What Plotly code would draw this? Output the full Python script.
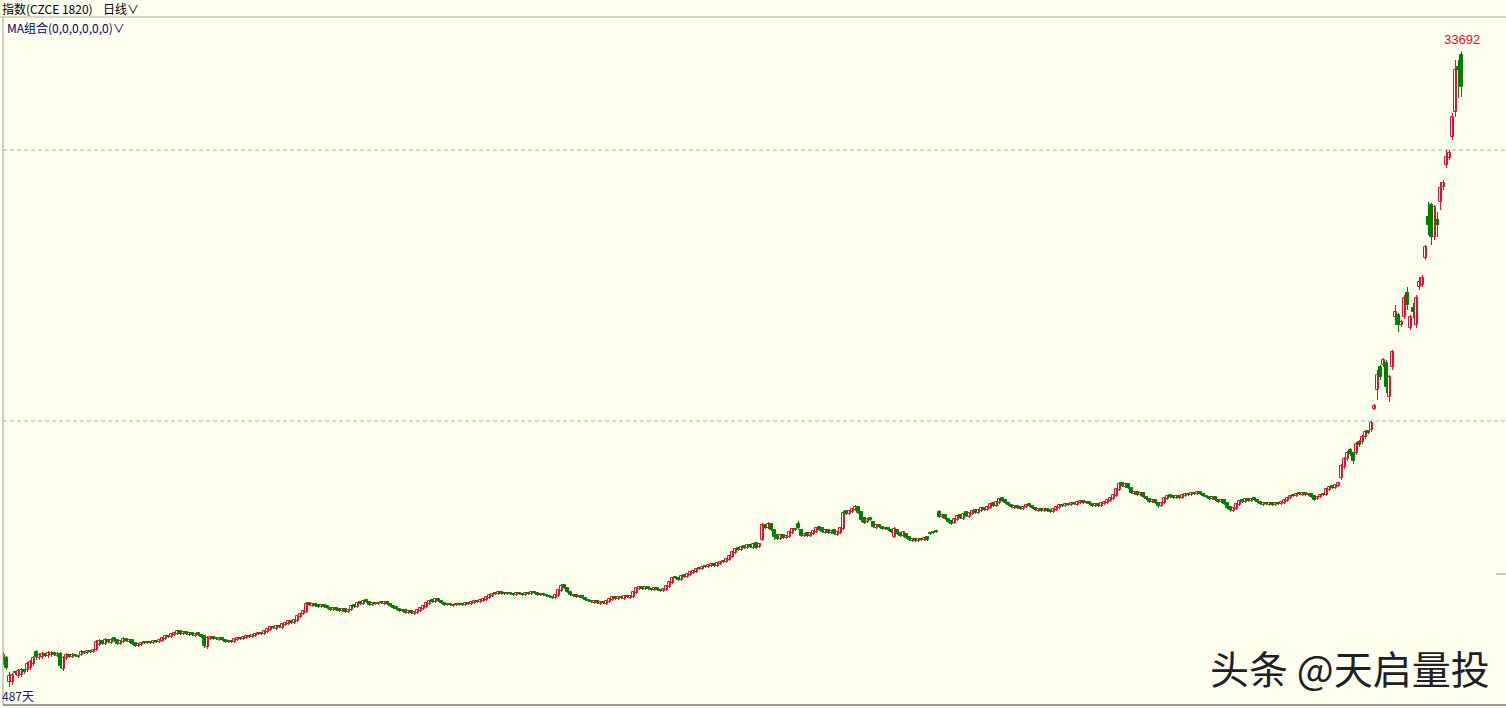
import plotly.graph_objects as go

# ---- data (index points, daily candles) ----
open_ = [
6300, 6390, 5310, 5310, 5760, 5580, 5625, 5850, 5850, 5940,
6120, 6660, 6390, 6435, 6570, 6480, 6525, 6615, 6480, 6570,
5895, 6390, 6525, 6435, 6525, 6480, 6525, 6660, 6615, 6705,
6660, 6750, 6975, 7155, 7020, 7200, 7065, 7290, 7200, 7020,
7110, 7245, 7110, 7200, 7065, 6930, 6975, 7110, 7065, 7110,
7065, 7155, 7110, 7155, 7245, 7380, 7335, 7425, 7470, 7605,
7470, 7560, 7425, 7515, 7380, 7515, 7425, 7380, 6885, 7245,
7335, 7290, 7200, 7290, 7200, 7110, 7155, 7110, 7200, 7290,
7245, 7290, 7380, 7335, 7380, 7470, 7515, 7470, 7560, 7650,
7785, 7695, 7830, 7740, 7875, 7920, 8055, 7965, 8055, 8235,
8370, 8460, 8865, 8730, 8820, 8775, 8685, 8775, 8730, 8640,
8550, 8640, 8595, 8505, 8595, 8460, 8550, 8775, 8685, 8910,
8820, 9000, 8910, 8775, 8865, 8820, 8910, 8820, 8910, 8820,
8730, 8685, 8595, 8505, 8550, 8415, 8505, 8370, 8415, 8505,
8595, 8685, 8820, 9000, 8910, 9045, 8955, 8865, 8775, 8820,
8730, 8820, 8775, 8820, 8775, 8865, 8820, 8865, 8955, 8910,
8955, 9000, 9090, 9180, 9315, 9270, 9360, 9315, 9270, 9315,
9270, 9225, 9315, 9270, 9225, 9315, 9270, 9360, 9315, 9225,
9270, 9225, 9180, 9135, 9090, 9180, 9405, 9675, 9540, 9360,
9180, 9225, 9135, 9180, 9090, 9000, 8955, 8865, 8955, 8820,
8910, 8820, 8910, 9000, 9135, 9045, 9135, 9045, 9180, 9090,
9135, 9315, 9495, 9585, 9495, 9585, 9495, 9450, 9540, 9450,
9405, 9450, 9585, 9765, 10035, 9990, 9900, 10125, 10035, 10125,
10215, 10260, 10440, 10395, 10530, 10485, 10530, 10620, 10530, 10620,
10755, 10710, 10800, 10935, 11115, 11340, 11250, 11430, 11340, 11475,
11340, 11565, 11385, 11700, 12375, 12240, 12420, 12150, 11925, 11745,
11925, 11790, 11835, 12015, 12195, 12420, 12150, 11880, 12015, 11880,
11970, 12060, 12285, 12240, 12015, 12150, 12015, 12150, 11925, 12015,
12195, 13005, 12870, 12960, 13050, 13185, 12960, 12690, 12510, 12690,
12510, 12240, 12375, 12285, 12195, 12240, 12150, 11835, 12150, 12015,
11880, 11970, 11835, 11655, 11745, 11655, 11745, 11700, 11835, 12015,
12060, 12105, 12960, 12735, 12825, 12645, 12555, 12465, 12600, 12825,
12645, 12960, 12735, 12870, 13050, 12915, 13005, 13140, 13050, 13140,
13365, 13230, 13365, 13590, 13500, 13365, 13275, 13140, 13230, 13185,
13095, 13185, 13320, 13230, 13140, 13005, 13095, 13005, 13095, 13050,
12960, 13050, 13140, 13275, 13230, 13320, 13275, 13365, 13275, 13365,
13455, 13365, 13410, 13320, 13230, 13320, 13230, 13320, 13365, 13455,
13545, 13680, 13950, 14265, 14085, 14220, 14040, 13770, 13860, 13725,
13815, 13635, 13545, 13410, 13500, 13365, 13230, 13365, 13545, 13725,
13680, 13590, 13680, 13590, 13680, 13770, 13725, 13815, 13770, 13860,
13770, 13680, 13635, 13545, 13635, 13500, 13410, 13500, 13365, 13185,
13005, 13095, 13275, 13500, 13410, 13545, 13455, 13590, 13500, 13410,
13275, 13365, 13275, 13365, 13275, 13365, 13320, 13365, 13455, 13590,
13725, 13680, 13815, 13725, 13815, 13725, 13770, 13680, 13545, 13635,
13770, 13725, 13950, 14130, 14040, 14130, 14490, 14985, 15345, 15750,
15615, 15615, 16110, 16110, 16335, 16605, 16650, 17595, 18450, 19485,
19575, 19665, 18135, 19485, 21735, 21825, 21375, 21735, 22815, 21240,
22140, 21375, 23085, 23175, 24390, 26235, 26775, 25335, 26100, 26910,
27585, 28575, 28890, 29835, 30960, 32985, 33525]

close = [
6525, 5940, 5580, 5625, 5715, 5805, 5850, 5760, 6120, 6210,
6390, 6435, 6525, 6570, 6480, 6615, 6615, 6525, 6570, 6030,
6390, 6525, 6435, 6525, 6480, 6435, 6660, 6615, 6705, 6660,
6750, 7110, 7155, 7020, 7200, 7110, 7200, 7155, 7020, 7155,
7245, 7155, 7200, 7020, 6930, 7020, 7065, 7065, 7110, 7065,
7155, 7110, 7200, 7290, 7380, 7335, 7470, 7515, 7605, 7470,
7560, 7470, 7515, 7425, 7470, 7425, 7335, 6930, 7290, 7335,
7245, 7245, 7290, 7200, 7110, 7155, 7110, 7245, 7290, 7245,
7335, 7380, 7335, 7425, 7470, 7515, 7470, 7605, 7695, 7785,
7740, 7830, 7785, 7920, 7965, 8055, 7965, 8100, 8280, 8370,
8505, 8820, 8775, 8820, 8730, 8685, 8775, 8685, 8640, 8550,
8640, 8550, 8505, 8595, 8460, 8550, 8730, 8685, 8865, 8820,
8955, 8910, 8775, 8865, 8820, 8865, 8865, 8910, 8820, 8730,
8640, 8595, 8505, 8550, 8415, 8505, 8415, 8460, 8550, 8640,
8730, 8865, 8955, 8910, 9045, 8955, 8865, 8775, 8820, 8775,
8775, 8775, 8820, 8775, 8865, 8820, 8910, 8955, 8910, 9000,
9045, 9135, 9225, 9270, 9270, 9360, 9270, 9270, 9315, 9270,
9225, 9315, 9270, 9225, 9315, 9270, 9360, 9315, 9225, 9270,
9225, 9180, 9135, 9090, 9225, 9450, 9630, 9540, 9360, 9225,
9225, 9135, 9180, 9090, 9000, 8955, 8910, 8955, 8865, 8910,
8865, 8955, 9045, 9135, 9045, 9135, 9090, 9180, 9135, 9180,
9360, 9540, 9585, 9495, 9585, 9495, 9450, 9540, 9450, 9405,
9495, 9630, 9810, 9990, 9990, 9900, 10080, 10035, 10170, 10260,
10305, 10395, 10395, 10485, 10485, 10575, 10620, 10530, 10665, 10710,
10710, 10845, 10980, 11160, 11295, 11250, 11385, 11340, 11475, 11385,
11520, 11340, 11520, 12375, 12240, 12420, 12150, 11835, 11745, 11925,
11790, 11880, 12060, 12195, 12150, 12240, 11880, 11970, 11880, 12015,
12105, 12240, 12150, 12060, 12150, 12015, 12105, 11970, 12060, 12240,
12915, 12870, 13005, 13095, 13185, 12915, 12600, 12465, 12645, 12600,
12285, 12375, 12285, 12195, 12240, 12150, 12060, 12195, 11970, 11880,
12060, 11790, 11700, 11745, 11655, 11745, 11700, 11790, 11700, 11970,
12015, 12060, 12735, 12825, 12645, 12510, 12420, 12645, 12780, 12690,
12870, 12780, 12915, 13005, 12915, 13050, 13140, 13050, 13185, 13320,
13230, 13410, 13545, 13455, 13365, 13275, 13185, 13230, 13140, 13095,
13185, 13275, 13230, 13140, 13050, 13095, 13005, 13095, 13005, 12960,
13095, 13185, 13275, 13230, 13320, 13275, 13365, 13320, 13410, 13455,
13365, 13410, 13320, 13230, 13320, 13230, 13365, 13410, 13500, 13590,
13725, 13995, 14220, 14130, 14220, 14040, 13815, 13860, 13725, 13815,
13635, 13545, 13410, 13500, 13365, 13230, 13365, 13590, 13680, 13635,
13590, 13680, 13590, 13725, 13770, 13725, 13815, 13770, 13860, 13770,
13680, 13635, 13545, 13635, 13500, 13410, 13500, 13320, 13140, 13050,
13140, 13320, 13455, 13410, 13545, 13455, 13545, 13500, 13410, 13320,
13365, 13320, 13365, 13275, 13365, 13320, 13410, 13500, 13590, 13680,
13680, 13770, 13770, 13815, 13725, 13770, 13635, 13500, 13635, 13725,
13725, 13995, 14085, 14040, 14175, 14265, 15030, 15345, 15615, 15570,
15255, 16020, 15975, 16335, 16560, 16515, 16965, 17730, 19125, 19035,
19800, 18585, 19035, 20160, 21960, 21375, 21510, 22590, 22275, 21735,
21960, 22590, 23310, 23490, 24885, 25875, 25335, 26685, 25875, 27540,
27765, 28935, 29115, 30735, 32850, 32850, 32085]

high = [
6660, 6480, 5760, 5715, 5805, 5895, 5940, 5895, 6210, 6300,
6480, 6750, 6615, 6660, 6615, 6705, 6705, 6660, 6660, 6660,
6480, 6615, 6570, 6615, 6570, 6525, 6750, 6705, 6750, 6750,
6795, 7200, 7245, 7200, 7290, 7245, 7290, 7335, 7245, 7200,
7335, 7290, 7245, 7245, 7110, 7065, 7110, 7155, 7155, 7155,
7200, 7200, 7245, 7335, 7425, 7425, 7515, 7560, 7650, 7650,
7605, 7605, 7560, 7560, 7515, 7560, 7470, 7425, 7380, 7380,
7380, 7335, 7335, 7335, 7245, 7200, 7200, 7290, 7335, 7335,
7380, 7425, 7425, 7470, 7515, 7560, 7560, 7650, 7740, 7830,
7830, 7875, 7875, 7965, 8010, 8100, 8100, 8145, 8325, 8415,
8550, 8910, 8910, 8865, 8865, 8820, 8820, 8820, 8775, 8685,
8685, 8685, 8640, 8640, 8640, 8595, 8775, 8820, 8910, 8955,
9000, 9045, 8955, 8910, 8910, 8910, 8955, 8955, 8955, 8865,
8775, 8730, 8640, 8595, 8595, 8550, 8550, 8505, 8595, 8685,
8775, 8910, 9000, 9045, 9090, 9090, 9000, 8910, 8865, 8865,
8820, 8865, 8865, 8865, 8910, 8910, 8955, 9000, 9000, 9045,
9090, 9180, 9270, 9315, 9360, 9405, 9405, 9360, 9360, 9360,
9315, 9360, 9360, 9315, 9360, 9360, 9405, 9405, 9360, 9315,
9315, 9270, 9225, 9180, 9270, 9495, 9720, 9720, 9585, 9405,
9270, 9270, 9225, 9225, 9135, 9045, 9000, 9000, 9000, 8955,
8955, 9000, 9090, 9180, 9180, 9180, 9180, 9225, 9225, 9225,
9405, 9585, 9630, 9630, 9630, 9630, 9540, 9585, 9585, 9495,
9540, 9675, 9855, 10035, 10080, 10035, 10125, 10170, 10215, 10305,
10350, 10440, 10485, 10530, 10575, 10620, 10665, 10665, 10710, 10755,
10800, 10890, 11025, 11205, 11340, 11385, 11430, 11475, 11520, 11520,
11565, 11610, 11565, 12465, 12420, 12510, 12465, 12195, 11970, 11970,
11970, 11925, 12105, 12240, 12240, 12555, 12195, 12015, 12060, 12060,
12150, 12285, 12330, 12285, 12195, 12195, 12150, 12195, 12105, 12285,
13005, 13050, 13050, 13140, 13275, 13230, 13005, 12735, 12690, 12735,
12555, 12420, 12420, 12330, 12285, 12285, 12195, 12285, 12195, 12060,
12105, 12015, 11880, 11790, 11790, 11790, 11790, 11835, 11880, 12060,
12105, 12150, 13050, 12870, 12870, 12690, 12600, 12690, 12825, 12870,
12915, 13005, 12960, 13050, 13095, 13095, 13185, 13185, 13230, 13365,
13410, 13455, 13590, 13635, 13545, 13410, 13320, 13275, 13275, 13230,
13230, 13320, 13365, 13275, 13185, 13140, 13140, 13140, 13140, 13095,
13140, 13230, 13320, 13320, 13365, 13365, 13410, 13410, 13455, 13500,
13500, 13455, 13455, 13365, 13365, 13365, 13410, 13455, 13545, 13635,
13770, 14040, 14310, 14310, 14265, 14265, 14085, 13905, 13905, 13860,
13860, 13680, 13590, 13545, 13545, 13410, 13410, 13635, 13725, 13770,
13725, 13725, 13725, 13770, 13815, 13815, 13860, 13860, 13905, 13905,
13815, 13725, 13680, 13680, 13680, 13545, 13545, 13545, 13410, 13230,
13185, 13365, 13500, 13545, 13590, 13590, 13590, 13635, 13545, 13455,
13410, 13410, 13410, 13410, 13410, 13410, 13455, 13545, 13635, 13725,
13770, 13815, 13860, 13860, 13860, 13815, 13815, 13725, 13680, 13770,
13815, 14040, 14130, 14175, 14220, 14310, 15120, 15435, 15705, 15840,
15660, 16110, 16200, 16425, 16650, 16650, 17055, 17820, 19350, 19575,
19890, 19800, 19125, 20250, 22275, 21915, 21600, 22725, 23085, 21825,
22365, 22725, 23535, 23625, 24975, 26910, 26865, 26775, 26460, 27810,
27900, 29250, 29250, 30915, 33300, 33300, 33692]

low = [
6075, 5850, 5085, 5175, 5625, 5490, 5535, 5670, 5760, 5850,
6030, 6300, 6300, 6345, 6435, 6390, 6435, 6480, 6435, 5940,
5805, 6300, 6390, 6390, 6435, 6390, 6480, 6570, 6570, 6615,
6615, 6705, 6930, 6975, 6975, 7065, 7020, 7110, 6975, 6975,
7065, 7110, 7065, 6975, 6885, 6885, 6930, 7020, 7020, 7020,
7020, 7065, 7065, 7110, 7200, 7290, 7290, 7380, 7425, 7425,
7425, 7425, 7380, 7380, 7335, 7380, 7290, 6840, 6795, 7200,
7200, 7200, 7155, 7155, 7065, 7065, 7065, 7065, 7155, 7200,
7200, 7245, 7290, 7290, 7335, 7425, 7425, 7425, 7515, 7605,
7695, 7650, 7740, 7695, 7830, 7875, 7920, 7920, 8010, 8190,
8325, 8415, 8730, 8685, 8685, 8640, 8640, 8640, 8595, 8505,
8505, 8505, 8460, 8460, 8415, 8415, 8505, 8640, 8640, 8775,
8775, 8865, 8730, 8730, 8775, 8775, 8820, 8775, 8775, 8685,
8595, 8550, 8460, 8460, 8370, 8370, 8370, 8325, 8370, 8460,
8550, 8640, 8775, 8865, 8865, 8910, 8820, 8730, 8730, 8730,
8685, 8730, 8730, 8730, 8730, 8775, 8775, 8820, 8865, 8865,
8910, 8955, 9045, 9135, 9225, 9225, 9225, 9225, 9225, 9225,
9180, 9180, 9225, 9180, 9180, 9225, 9225, 9270, 9180, 9180,
9180, 9135, 9090, 9045, 9045, 9135, 9360, 9495, 9315, 9180,
9135, 9090, 9090, 9045, 8955, 8910, 8865, 8820, 8820, 8775,
8820, 8775, 8865, 8955, 9000, 9000, 9045, 9000, 9090, 9045,
9090, 9270, 9450, 9450, 9450, 9450, 9405, 9405, 9405, 9360,
9360, 9405, 9540, 9720, 9945, 9855, 9855, 9990, 9990, 10080,
10170, 10215, 10350, 10350, 10440, 10440, 10485, 10485, 10485, 10575,
10665, 10665, 10755, 10890, 11070, 11205, 11205, 11295, 11295, 11340,
11295, 11295, 11340, 11655, 12195, 12195, 12105, 11700, 11700, 11700,
11745, 11745, 11790, 11970, 12105, 12150, 11835, 11835, 11835, 11835,
11925, 12015, 12105, 12015, 11970, 11970, 11970, 11925, 11880, 11970,
12150, 12825, 12825, 12915, 13005, 12870, 12510, 12420, 12465, 12555,
12240, 12195, 12240, 12150, 12150, 12105, 12015, 11790, 11925, 11835,
11835, 11745, 11655, 11610, 11610, 11610, 11655, 11655, 11655, 11925,
11970, 12015, 12690, 12690, 12600, 12465, 12375, 12420, 12555, 12645,
12600, 12735, 12690, 12825, 12870, 12870, 12960, 13005, 13005, 13095,
13185, 13185, 13320, 13410, 13320, 13230, 13140, 13095, 13095, 13050,
13050, 13140, 13185, 13095, 13005, 12960, 12960, 12960, 12960, 12915,
12915, 13005, 13095, 13185, 13185, 13230, 13230, 13275, 13230, 13320,
13320, 13320, 13275, 13185, 13185, 13185, 13185, 13275, 13320, 13410,
13500, 13635, 13905, 14085, 14040, 13995, 13770, 13725, 13680, 13680,
13590, 13500, 13365, 13365, 13320, 13140, 13185, 13320, 13500, 13590,
13545, 13545, 13545, 13545, 13635, 13680, 13680, 13725, 13725, 13725,
13635, 13590, 13500, 13500, 13455, 13365, 13365, 13275, 13095, 12960,
12960, 13050, 13230, 13365, 13365, 13410, 13410, 13455, 13365, 13275,
13230, 13275, 13230, 13230, 13230, 13275, 13275, 13320, 13410, 13545,
13635, 13635, 13725, 13680, 13680, 13680, 13590, 13455, 13500, 13590,
13680, 13680, 13905, 13995, 13995, 14085, 14400, 14895, 15255, 15480,
15120, 15525, 15885, 16020, 16245, 16470, 16560, 17550, 18000, 18900,
19485, 18315, 17910, 19350, 21375, 21060, 21285, 21645, 22050, 21150,
21690, 21240, 22950, 23085, 24300, 25425, 24975, 25200, 25335, 26550,
27450, 28440, 28800, 29700, 30735, 31590, 31635]

days = list(range(len(close)))
day_count_label = "487天"
title_text = "指数(CZCE 1820)"
period_text = "日线"
ma_text = "MA组合(0,0,0,0,0,0)"
watermark = "头条 @天启量投"
grid_levels = [17055, 29250]
y_range = [4275, 35235]
x_range = [-0.167, 500.833]

BG = "#FFFFEE"
UP = "#E0102E"
DOWN = "#007F00"

W, H = 1506, 708
ML, MR, MT, MB = 3, 0, 17, 3
PW, PH = W - ML - MR, H - MT - MB


def px(xp):
    return (xp - ML) / PW


def py(yp):
    return (H - MB - yp) / PH


# split candles into up / down groups
up_idx = [i for i in days if close[i] >= open_[i]]
dn_idx = [i for i in days if close[i] < open_[i]]


def wick_xy(idx):
    xs, ys = [], []
    for i in idx:
        xs += [days[i], days[i], None]
        ys += [low[i], high[i], None]
    return xs, ys


def body(idx):
    xs = [days[i] for i in idx]
    base = [min(open_[i], close[i]) for i in idx]
    hgt = [abs(close[i] - open_[i]) for i in idx]
    return xs, base, hgt


fig = go.Figure()
for idx, col in ((up_idx, UP), (dn_idx, DOWN)):
    wx, wy = wick_xy(idx)
    fig.add_trace(go.Scatter(x=wx, y=wy, mode="lines", line=dict(color=col, width=1),
                             hoverinfo="skip", showlegend=False))
for idx, col, fill in ((up_idx, UP, BG), (dn_idx, DOWN, DOWN)):
    bx, bb, bh = body(idx)
    fig.add_trace(go.Bar(x=bx, y=bh, base=bb, width=0.74,
                         marker=dict(color=fill, line=dict(color=col, width=1)),
                         hoverinfo="skip", showlegend=False))

shapes = []
for g in grid_levels:
    shapes.append(dict(type="line", xref="paper", yref="y", x0=0, x1=1, y0=g, y1=g,
                       line=dict(color="#ABABAB", width=1, dash="4px,3px"), layer="below"))
# frame lines
shapes.append(dict(type="line", xref="paper", yref="paper", x0=px(0), x1=1, y0=1, y1=1,
                   line=dict(color="#B0B0B0", width=1)))
shapes.append(dict(type="line", xref="paper", yref="paper", x0=0, x1=0, y0=0, y1=1,
                   line=dict(color="#A0A0A0", width=1)))
shapes.append(dict(type="line", xref="paper", yref="paper", x0=0, x1=1, y0=0, y1=0,
                   line=dict(color="#9A9A9A", width=2)))
shapes.append(dict(type="line", xref="paper", yref="paper", x0=px(1496), x1=1, y0=py(574), y1=py(574),
                   line=dict(color="#C8C8C8", width=2)))

CJK = "Noto Sans CJK SC"
ann = []
ann.append(dict(xref="paper", yref="paper", x=px(0), y=py(8), xanchor="left", yanchor="middle",
                text=title_text, showarrow=False, font=dict(family=CJK, size=12, color="#000000")))
ann.append(dict(xref="paper", yref="paper", x=px(101), y=py(8), xanchor="left", yanchor="middle",
                text=period_text + "∨", showarrow=False, font=dict(family=CJK, size=12, color="#000000")))
ann.append(dict(xref="paper", yref="paper", x=px(5), y=py(27), xanchor="left", yanchor="middle",
                text=ma_text + "∨", showarrow=False, font=dict(family=CJK, size=12, color="#000080")))
ann.append(dict(xref="paper", yref="paper", x=px(0), y=py(695), xanchor="left", yanchor="middle",
                text=day_count_label, showarrow=False, font=dict(family=CJK, size=12, color="#1A1A8C")))
ann.append(dict(xref="x", yref="y", x=days[-1], y=max(high), xanchor="center", yanchor="bottom",
                yshift=2, text=str(max(high)), showarrow=False,
                font=dict(family="Liberation Sans", size=13, color="#E0102E")))
# watermark with light shadow
ann.append(dict(xref="paper", yref="paper", x=px(1210), y=py(668), xanchor="left", yanchor="middle",
                text=watermark, showarrow=False, font=dict(family=CJK, size=39, color="#FFFFFF")))
ann.append(dict(xref="paper", yref="paper", x=px(1208), y=py(667), xanchor="left", yanchor="middle",
                text=watermark, showarrow=False, font=dict(family=CJK, size=39, color="#202020")))

fig.update_layout(
    width=W, height=H,
    margin=dict(l=ML, r=MR, t=MT, b=MB),
    paper_bgcolor=BG, plot_bgcolor=BG,
    barmode="overlay", bargap=0,
    xaxis=dict(range=x_range, visible=False, fixedrange=True),
    yaxis=dict(range=y_range, visible=False, fixedrange=True),
    shapes=shapes, annotations=ann,
    hovermode=False,
)

fig.write_html("out.html", config={"displayModeBar": False},
               post_script="document.body.style.margin='0';document.body.style.background='" + BG + "';")
